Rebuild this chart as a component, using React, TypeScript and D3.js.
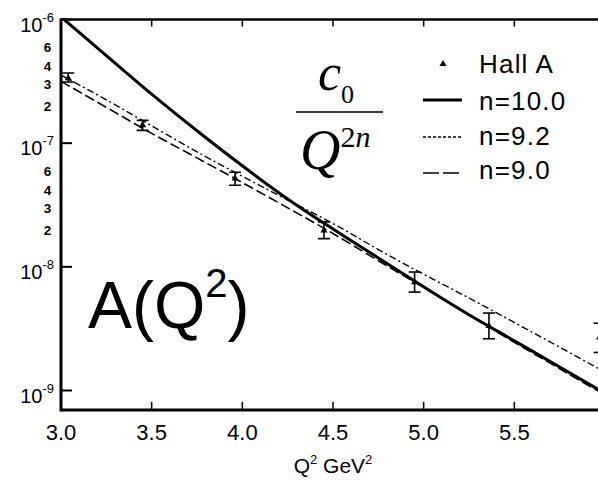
import React from "react";
import { scaleLinear, scaleLog, line, curveMonotoneX, symbol, symbolTriangle } from "d3";

// Hall A data points (Q^2 in GeV^2) with error bar limits
const hallQ2 = [3.04, 3.45, 3.96, 4.45, 4.95, 5.36, 5.97];
const hallA = [3.36e-7, 1.4e-7, 5.18e-8, 1.97e-8, 7.53e-9, 3.32e-9, 2.69e-9];
const hallHi = [3.69e-7, 1.53e-7, 5.82e-8, 2.31e-8, 9.08e-9, 4.23e-9, 3.5e-9];
const hallLo = [3.12e-7, 1.27e-7, 4.57e-8, 1.69e-8, 6.25e-9, 2.62e-9, 2.03e-9];

// curves
const curveQ2 = [3.0, 3.25, 3.5, 3.75, 4.0, 4.25, 4.5, 4.75, 5.0, 5.25, 5.5, 5.75, 6.0];
const n100 = [1.05e-6, 5.1e-7, 2.49e-7, 1.26e-7, 6.56e-8, 3.54e-8, 2.02e-8, 1.18e-8, 6.9e-9, 4.1e-9, 2.52e-9, 1.55e-9, 9.5e-10];
const n092 = [3.55e-7, 2.24e-7, 1.38e-7, 8.5e-8, 5.4e-8, 3.47e-8, 2.24e-8, 1.38e-8, 8.7e-9, 5.6e-9, 3.55e-9, 2.24e-9, 1.41e-9];
const n090 = [3.16e-7, 1.95e-7, 1.2e-7, 7.6e-8, 4.8e-8, 3.0e-8, 1.86e-8, 1.12e-8, 6.8e-9, 4.1e-9, 2.45e-9, 1.5e-9, 9.2e-10];

const xTicks = [3.0, 3.5, 4.0, 4.5, 5.0, 5.5];
const xTickLabels = ["3.0", "3.5", "4.0", "4.5", "5.0", "5.5"];
const yMajor = [1e-6, 1e-7, 1e-8, 1e-9];
const yMajorExp = ["-6", "-7", "-8", "-9"];
const yMinorDecades = [1e-7, 1e-8];
const yMinorDigits = [6, 4, 3, 2];

const legendLabels = ["Hall A", "n=10.0", "n=9.2", "n=9.0"];

const W = 598;
const H = 480;
const left = 61;
const top = 19.5;
const bottom = 410;

export default function App() {
  const x = scaleLinear().domain([3.0, 6.0]).range([left, 605]);
  const y = scaleLog().domain([1e-9, 1e-6]).range([390.5, 19.5]);

  const mk = (vals: number[]) =>
    line<number>()
      .x((_, i) => x(curveQ2[i]))
      .y((d) => y(d))
      .curve(curveMonotoneX)(vals) || "";

  const tri = symbol().type(symbolTriangle).size(22)() || "";
  const sans = "Liberation Sans, Arial, sans-serif";
  const serif = "Liberation Serif, Times New Roman, serif";

  // small nudge so the crowded 4 and 3 labels stay apart
  const minorOffset: Record<number, number> = { 6: 0, 4: -2.5, 3: 0, 2: 0 };

  return (
    <svg width={W} height={H} style={{ position: "absolute", left: 0, top: 0, background: "#fff" }}>
      <defs>
        <clipPath id="plot">
          <rect x={left} y={top} width={W - left} height={bottom - top} />
        </clipPath>
      </defs>

      {/* frame */}
      <line x1={left} y1={top} x2={W} y2={top} stroke="#000" strokeWidth={2.5} />
      <line x1={left} y1={top - 1} x2={left} y2={bottom + 1.5} stroke="#000" strokeWidth={3} />
      <line x1={left} y1={bottom} x2={W} y2={bottom} stroke="#000" strokeWidth={3} />

      {/* x ticks */}
      {xTicks.map((t, i) => (
        <g key={"xt" + i}>
          {i > 0 && <line x1={x(t)} x2={x(t)} y1={bottom} y2={bottom - 8} stroke="#000" strokeWidth={1.5} />}
          {i > 0 && <line x1={x(t)} x2={x(t)} y1={top} y2={top + 7} stroke="#000" strokeWidth={1.5} />}
          <text x={x(t)} y={440} textAnchor="middle" fontFamily={sans} fontSize={22}>
            {xTickLabels[i]}
          </text>
        </g>
      ))}
      <text x={x(4.5)} y={473} textAnchor="middle" fontFamily={sans} fontSize={21}>
        Q<tspan fontSize={13} dy={-9}>2</tspan>
        <tspan dy={9}> GeV</tspan>
        <tspan fontSize={13} dy={-9}>2</tspan>
      </text>

      {/* y ticks */}
      {yMajor.map((v, i) => (
        <g key={"ym" + i}>
          <line x1={left} x2={left + 11} y1={y(v)} y2={y(v)} stroke="#000" strokeWidth={2} />
          <text x={54} y={y(v) + 12} textAnchor="end" fontFamily={sans} fontSize={20}>
            10<tspan fontSize={13} dy={-10}>{yMajorExp[i]}</tspan>
          </text>
        </g>
      ))}
      {yMinorDecades.map((dec) =>
        yMinorDigits.map((d) => (
          <text
            key={"mn" + dec + d}
            x={47.5}
            y={y(dec * d) + 5 + minorOffset[d]}
            textAnchor="middle"
            fontFamily={sans}
            fontWeight="bold"
            fontSize={13.5}
          >
            {d}
          </text>
        ))
      )}

      {/* curves */}
      <g clipPath="url(#plot)" fill="none" stroke="#000">
        <path d={mk(n092)} strokeWidth={1.4} strokeDasharray="7,3,2,3" />
        <path d={mk(n090)} strokeWidth={1.6} strokeDasharray="10,4" />
        <path d={mk(n100)} strokeWidth={3} />
      </g>

      {/* data */}
      <g clipPath="url(#plot)">
        {hallQ2.map((q, i) => {
          const cx = x(q);
          return (
            <g key={"pt" + i} stroke="#000" strokeWidth={1.6}>
              <line x1={cx} x2={cx} y1={y(hallHi[i])} y2={y(hallLo[i])} />
              <line x1={cx - 6} x2={cx + 6} y1={y(hallHi[i])} y2={y(hallHi[i])} />
              <line x1={cx - 6} x2={cx + 6} y1={y(hallLo[i])} y2={y(hallLo[i])} />
              <path d={tri} transform={`translate(${cx},${y(hallA[i])})`} fill="#000" stroke="none" />
            </g>
          );
        })}
      </g>

      {/* formula */}
      <text x={318} y={90} fontFamily={serif} fontStyle="italic" fontSize={52}>
        c<tspan fontSize={26} fontStyle="normal" dy={13}>0</tspan>
      </text>
      <line x1={296} x2={383} y1={112} y2={112} stroke="#000" strokeWidth={1.5} />
      <text x={300} y={169} fontFamily={serif} fontStyle="italic" fontSize={56}>
        Q<tspan fontSize={30} fontStyle="normal" dy={-22}>2</tspan>
        <tspan fontSize={30}>n</tspan>
      </text>

      {/* big label */}
      <text x={88} y={328} fontFamily={sans} fontSize={66}>
        A(Q<tspan fontSize={40} dy={-31}>2</tspan>
        <tspan dy={31}>)</tspan>
      </text>

      {/* legend */}
      <path d={tri} transform="translate(443,64)" fill="#000" />
      <line x1={423} x2={462} y1={100} y2={100} stroke="#000" strokeWidth={3} />
      <line x1={423} x2={462} y1={137} y2={137} stroke="#000" strokeWidth={1.3} strokeDasharray="3,2" />
      <line x1={423} x2={462} y1={173} y2={173} stroke="#000" strokeWidth={1.6} strokeDasharray="16,4" />
      {legendLabels.map((l, i) => (
        <text key={"lg" + i} x={479} y={[73, 110, 145, 179][i]} fontFamily={sans} fontSize={26} letterSpacing={1.2}>
          {l}
        </text>
      ))}
    </svg>
  );
}
